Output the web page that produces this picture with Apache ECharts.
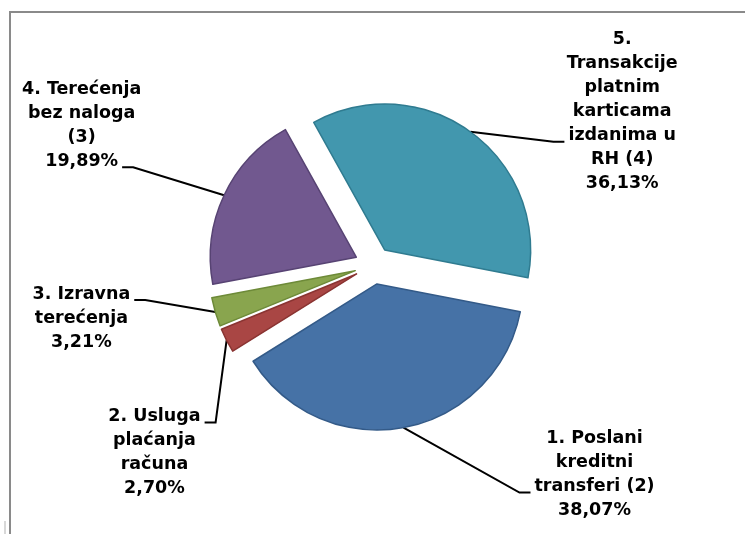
<!DOCTYPE html>
<html lang="hr">
<head>
    <meta charset="UTF-8">
    <title>Platne transakcije po vrsti</title>
    <style>
        html, body {
            margin: 0;
            padding: 0;
            background: #ffffff;
        }
        #main {
            width: 745px;
            height: 534px;
        }
    </style>
    <script type="text/javascript" src="https://cdn.jsdelivr.net/npm/echarts@6/dist/echarts.min.js"></script>
</head>
<body>
<div id="main"></div>
<script type="text/javascript">
    // categories (wrapped the way the labels wrap) and their shares in %
    var names = ['1. Poslani\nkreditni\ntransferi (2)',
        '2. Usluga\nplaćanja\nračuna',
        '3. Izravna\nterećenja',
        '4. Terećenja\nbez naloga\n(3)',
        '5.\nTransakcije\nplatnim\nkarticama\nizdanima u\nRH (4)'];
    var shares = [38.07, 2.70, 3.21, 19.89, 36.13];

    var colors = ['#4672a6', '#a94644', '#89a54e', '#71588f', '#4297ae'];
    var borders = ['#335a88', '#8a3432', '#6d8a38', '#574373', '#2f7b90'];

    // leader line end, relative to the slice edge point, and the label row it meets
    var stubEnd = [[127, 65], [-22, 82], [-81, -12], [-102, -28], [94, 10]];
    var stubRow = [2, 0, 0, 3, 4];

    var FONT_SIZE = 17.5, LINE_H = 24;
    var cx = 373.5, cy = 265.3, R = 146, EXPLODE = 19, START = 11;

    var ctx = document.createElement('canvas').getContext('2d');
    ctx.font = 'bold ' + FONT_SIZE + 'px "DejaVu Sans"';

    function pct(v) {
        return v.toFixed(2).replace('.', ',') + '%';
    }
    function labelText(i) {
        return names[i] + '\n' + pct(shares[i]);
    }

    var total = 0;
    shares.forEach(function (v) { total += v; });

    function makeLayout(i) {
        return function (params) {
            if (params.dataIndex !== i || !params.labelLinePoints) return;
            var p0 = params.labelLinePoints[0];
            var sx = stubEnd[i][0] > 0 ? 1 : -1;
            var ex = p0[0] + stubEnd[i][0], ey = p0[1] + stubEnd[i][1];
            var rows = labelText(i).split('\n');
            var w = ctx.measureText(rows[stubRow[i]]).width;
            return {
                x: ex + sx * (4 + w / 2),
                y: ey - 6 - (stubRow[i] + 0.5) * LINE_H,
                align: 'center',
                verticalAlign: 'top',
                labelLinePoints: [p0, [ex - sx * 11, ey], [ex, ey]]
            };
        };
    }

    // one pie per slice, so every slice can be pulled out along its own middle
    var series = [];
    var before = 0;
    shares.forEach(function (v, i) {
        var mid = (START + (before + v / 2) / total * 360) * Math.PI / 180;
        before += v;
        series.push({
            type: 'pie',
            silent: true,
            animation: false,
            avoidLabelOverlap: false,
            center: [cx + EXPLODE * Math.cos(mid), cy + EXPLODE * Math.sin(mid)],
            radius: R,
            startAngle: -START,
            clockwise: true,
            data: shares.map(function (s, j) {
                return {
                    name: names[j],
                    value: s,
                    itemStyle: j === i
                        ? {color: colors[j], borderColor: borders[j], borderWidth: 1.5}
                        : {color: 'transparent', borderWidth: 0},
                    label: {show: j === i},
                    labelLine: {show: j === i}
                };
            }),
            label: {
                position: 'outside',
                color: '#000000',
                fontFamily: 'DejaVu Sans',
                fontWeight: 'bold',
                fontSize: FONT_SIZE,
                lineHeight: LINE_H,
                formatter: function (p) {
                    return labelText(p.dataIndex);
                }
            },
            labelLine: {
                lineStyle: {color: '#000000', width: 2}
            },
            labelLayout: makeLayout(i)
        });
    });

    var chart = echarts.init(document.getElementById('main'));
    chart.setOption({
        backgroundColor: '#ffffff',
        graphic: [{
            type: 'rect',
            silent: true,
            shape: {x: 10, y: 12, width: 800, height: 600},
            style: {fill: 'none', stroke: '#8a8a8a', lineWidth: 2}
        }, {
            type: 'line',
            silent: true,
            shape: {x1: 5, y1: 521, x2: 5, y2: 534},
            style: {stroke: '#d8d8d8', lineWidth: 2}
        }],
        series: series
    });
</script>
</body>
</html>
